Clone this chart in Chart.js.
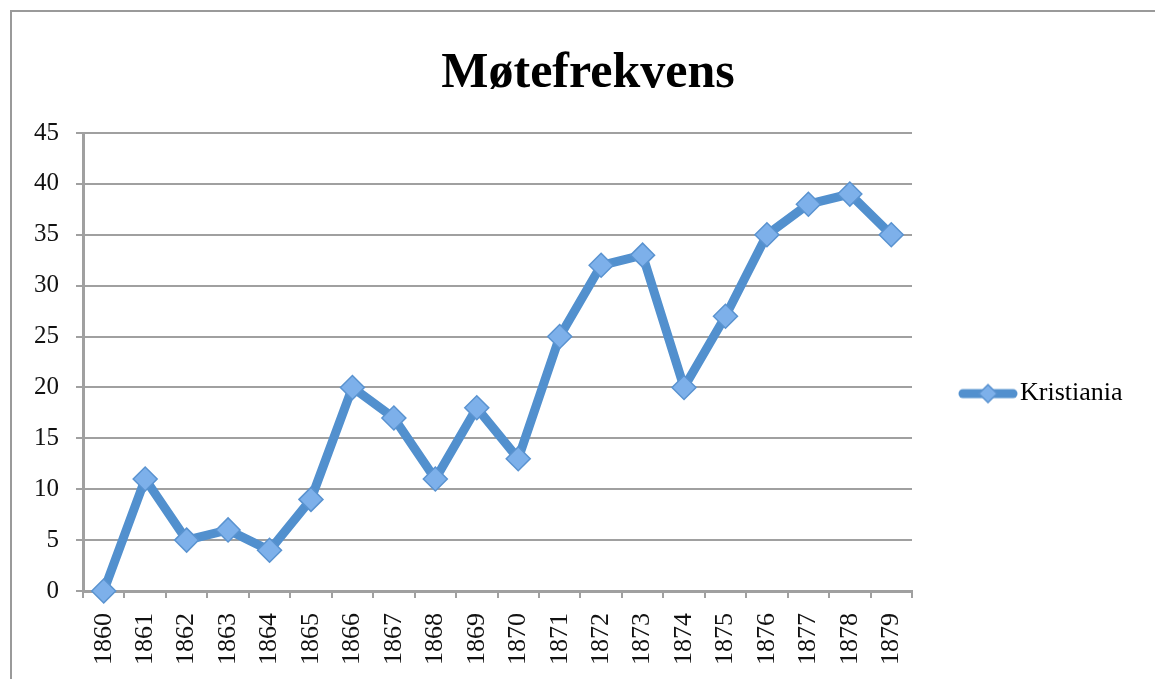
<!DOCTYPE html>
<html>
<head>
<meta charset="utf-8">
<script src="https://cdn.jsdelivr.net/npm/chart.js@4.4.1/dist/chart.umd.min.js"></script>
<style>
  html, body { margin: 0; padding: 0; background: #fff; }
  #wrap { position: relative; width: 1155px; height: 679px; }
  #frame { position: absolute; left: 10px; top: 10px; right: -10px; bottom: -10px;
           border-left: 2px solid #9a9a9a; border-top: 2px solid #9a9a9a; pointer-events: none; }
  canvas { position: absolute; left: 0; top: 0; }
</style>
</head>
<body>
<div id="wrap">
  <canvas id="chartCanvas" width="1155" height="679"></canvas>
  <div id="frame"></div>
</div>
<script>
const years = ["1860", "1861", "1862", "1863", "1864", "1865", "1866", "1867", "1868", "1869",
  "1870", "1871", "1872", "1873", "1874", "1875", "1876", "1877", "1878", "1879"];
const kristiania = [0, 11, 5, 6, 4, 9, 20, 17, 11, 18, 13, 25, 32, 33, 20, 27, 35, 38, 39, 35];
const seriesName = "Kristiania";
const titleText = "Møtefrekvens";

const serif = "'Liberation Serif', 'DejaVu Serif', serif";
const gridGray = "#a0a0a0";
const lineBlue = "#5290ce";
const markerFill = "#7db0ea";

// legend symbol: thick line with a diamond in the middle
function makeLegendSymbol() {
  const c = document.createElement("canvas");
  c.width = 60;
  c.height = 26;
  const g = c.getContext("2d");
  g.strokeStyle = lineBlue;
  g.lineWidth = 9;
  g.lineCap = "round";
  g.beginPath();
  g.moveTo(5, 13);
  g.lineTo(55, 13);
  g.stroke();
  g.fillStyle = markerFill;
  g.strokeStyle = "#5a93d0";
  g.lineWidth = 1.5;
  g.beginPath();
  g.moveTo(30, 4);
  g.lineTo(39, 13);
  g.lineTo(30, 22);
  g.lineTo(21, 13);
  g.closePath();
  g.fill();
  g.stroke();
  return c;
}
const legendSymbol = makeLegendSymbol();

// keep the legend column a fixed width so the plot ends where it should
const legendWidthPlugin = {
  id: "legendWidth",
  beforeLayout(chart) {
    const legend = chart.legend;
    if (legend && !legend._fixedWidth) {
      const fit = legend.fit.bind(legend);
      legend.fit = () => {
        fit();
        legend.width = 242;
      };
      legend._fixedWidth = true;
    }
  },
};

const ctx = document.getElementById("chartCanvas").getContext("2d");

window.myChart = new Chart(ctx, {
  type: "line",
  data: {
    labels: years,
    datasets: [
      {
        label: seriesName,
        data: kristiania,
        borderColor: lineBlue,
        borderWidth: 9,
        backgroundColor: markerFill,
        pointStyle: "rectRot",
        pointRadius: 12,
        pointHoverRadius: 12,
        pointBorderColor: "#5a93d0",
        pointBorderWidth: 1.5,
        pointBackgroundColor: markerFill,
        tension: 0,
        clip: false,
      },
    ],
  },
  plugins: [legendWidthPlugin],
  options: {
    responsive: false,
    animation: false,
    devicePixelRatio: 1,
    layout: { padding: { left: 22, right: 1, top: 44, bottom: 0 } },
    plugins: {
      title: {
        display: true,
        text: titleText,
        color: "#000",
        font: { family: serif, size: 50, weight: "bold", lineHeight: 1.2 },
        padding: { top: 0, bottom: 29 },
      },
      legend: {
        position: "right",
        title: {
          display: true,
          text: " ",
          font: { size: 1 },
          padding: { top: 0, bottom: 63 },
        },
        labels: {
          usePointStyle: true,
          pointStyleWidth: 38,
          boxHeight: 26,
          color: "#000",
          font: { family: serif, size: 26 },
          padding: 57,
          generateLabels: (chart) => [
            {
              text: seriesName,
              fillStyle: lineBlue,
              strokeStyle: lineBlue,
              fontColor: "#000",
              lineWidth: 0,
              pointStyle: legendSymbol,
              datasetIndex: 0,
            },
          ],
        },
      },
      tooltip: { enabled: false },
    },
    scales: {
      x: {
        offset: true,
        grid: {
          display: true,
          drawOnChartArea: false,
          drawTicks: true,
          tickLength: 7,
          color: gridGray,
          lineWidth: 2,
          offset: true,
        },
        border: { color: gridGray, width: 3 },
        ticks: {
          color: "#111",
          font: { family: serif, size: 26 },
          minRotation: 90,
          maxRotation: 90,
          padding: 15,
          autoSkip: false,
        },
        afterFit: (scale) => {
          scale.height = 88;
        },
      },
      y: {
        min: 0,
        max: 45,
        ticks: {
          stepSize: 5,
          color: "#111",
          font: { family: serif, size: 25 },
          padding: 17,
        },
        grid: {
          color: gridGray,
          lineWidth: 2,
          tickLength: 7,
        },
        border: { color: gridGray, width: 3 },
        afterFit: (scale) => {
          scale.width = 61;
        },
      },
    },
  },
});
</script>
</body>
</html>
